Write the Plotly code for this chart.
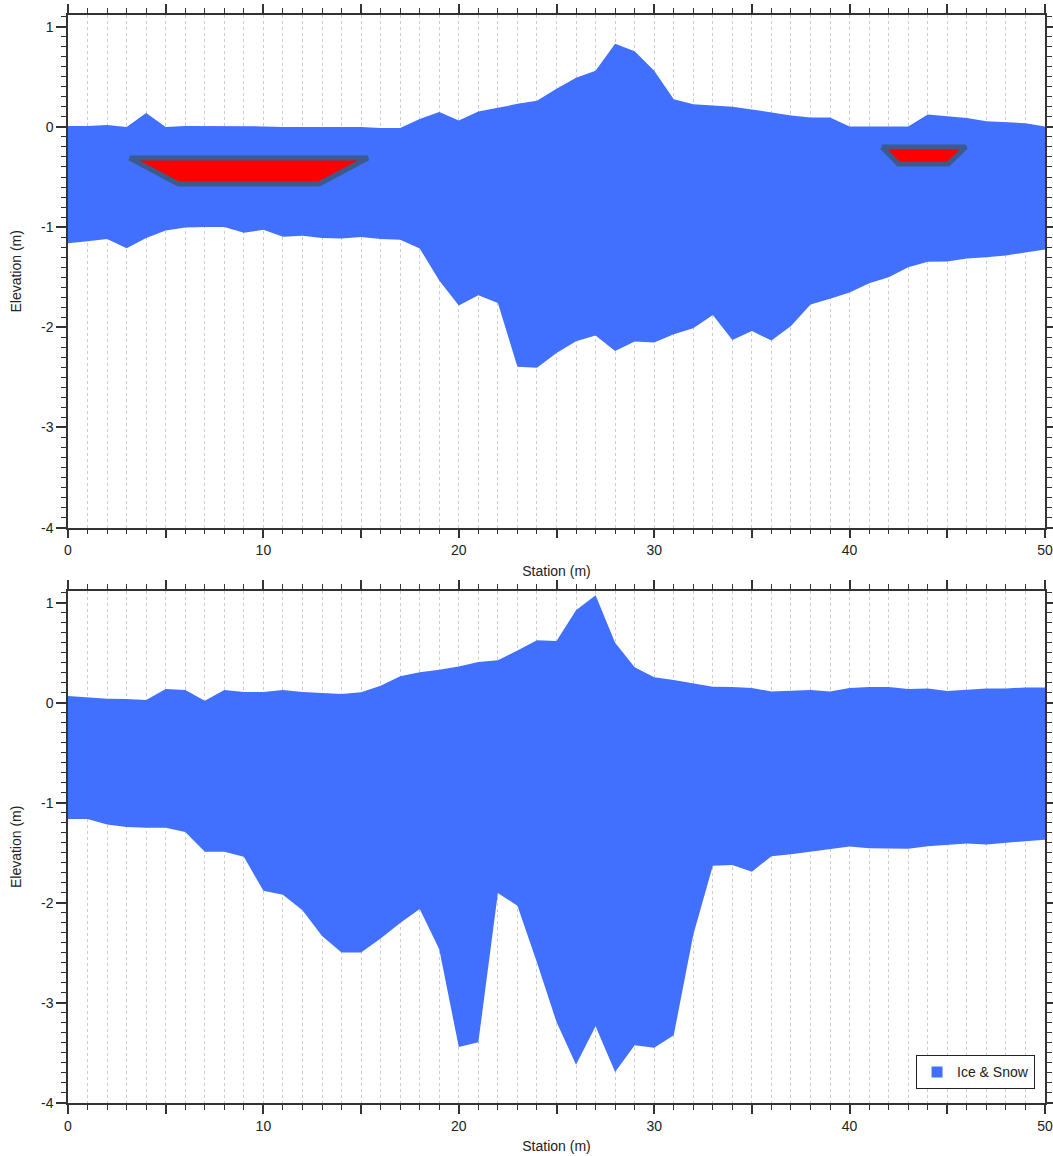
import plotly.graph_objects as go

# Survey stations (m)
stations = list(range(0, 51))

# Profile A: surface and base elevations (m)
a_surface = [0.01, 0.01, 0.02, 0.00, 0.14, 0.00, 0.01, 0.01, 0.01, 0.005,
             0.005, 0.0, 0.0, 0.0, -0.005, 0.0, -0.01, -0.01, 0.08, 0.15,
             0.065, 0.155, 0.19, 0.23, 0.26, 0.38, 0.49, 0.56, 0.83, 0.755,
             0.56, 0.275, 0.225, 0.213, 0.20, 0.175, 0.145, 0.115, 0.095, 0.093,
             0.005, 0.005, 0.005, 0.005, 0.125, 0.105, 0.09, 0.057, 0.047, 0.037,
             0.005]
a_base = [-1.16, -1.14, -1.12, -1.21, -1.11, -1.035, -1.005, -1.0, -1.0, -1.057,
          -1.027, -1.097, -1.087, -1.11, -1.113, -1.10, -1.12, -1.127, -1.213, -1.533,
          -1.783, -1.68, -1.757, -2.393, -2.403, -2.257, -2.14, -2.083, -2.237, -2.143,
          -2.153, -2.07, -2.01, -1.877, -2.126, -2.036, -2.133, -1.986, -1.773, -1.715,
          -1.653, -1.56, -1.50, -1.40, -1.347, -1.343, -1.313, -1.30, -1.283, -1.253,
          -1.223]

# Profile B: surface and base elevations (m)
b_surface = [0.067, 0.05, 0.04, 0.037, 0.027, 0.137, 0.127, 0.02, 0.127, 0.107,
             0.107, 0.127, 0.107, 0.097, 0.087, 0.105, 0.169, 0.265, 0.304, 0.329,
             0.361, 0.407, 0.425, 0.521, 0.625, 0.618, 0.924, 1.074, 0.60, 0.355,
             0.254, 0.226, 0.19, 0.16, 0.157, 0.147, 0.113, 0.117, 0.127, 0.113,
             0.147, 0.157, 0.157, 0.137, 0.143, 0.117, 0.127, 0.143, 0.143, 0.153,
             0.153]
b_base = [-1.163, -1.163, -1.217, -1.243, -1.25, -1.25, -1.293, -1.49, -1.49, -1.54,
          -1.88, -1.92, -2.073, -2.33, -2.495, -2.495, -2.357, -2.20, -2.061, -2.464,
          -3.44, -3.394, -1.901, -2.029, -2.596, -3.19, -3.618, -3.233, -3.689, -3.422,
          -3.447, -3.322, -2.318, -1.63, -1.622, -1.69, -1.533, -1.513, -1.483, -1.463,
          -1.437, -1.453, -1.453, -1.46, -1.433, -1.417, -1.407, -1.417, -1.397, -1.383,
          -1.37]

# Water pockets inside profile A (trapezoid corners, m)
pocket1_x = [3.15, 15.35, 12.85, 5.65]
pocket1_y = [-0.31, -0.31, -0.57, -0.57]
pocket2_x = [41.65, 45.95, 45.05, 42.5]
pocket2_y = [-0.20, -0.20, -0.37, -0.37]

# Axis ticks
x_major = list(range(0, 51, 5))
x_labels = [str(v) if v % 10 == 0 else "" for v in x_major]
y_major = [-4, -3, -2, -1, 0, 1]
y_labels = [str(v) for v in y_major]

ICE = "#4170FF"
POCKET = "#FF0000"
POCKET_EDGE = "#3B5B8C"
AXIS = "#333333"
GRID = "#cdcdcd"
FONT = "Arial, Liberation Sans, sans-serif"


def band(xs, top, bottom):
    """Closed outline of the ice body: surface left->right, base right->left."""
    return xs + xs[::-1], top + bottom[::-1]


fig = go.Figure()

ax, ay = band(stations, a_surface, a_base)
fig.add_trace(go.Scatter(x=ax, y=ay, fill="toself", fillcolor=ICE, mode="lines",
                         line=dict(width=0, color=ICE), hoverinfo="skip",
                         showlegend=False, xaxis="x", yaxis="y"))
for px, py in ((pocket1_x, pocket1_y), (pocket2_x, pocket2_y)):
    fig.add_trace(go.Scatter(x=px + px[:1], y=py + py[:1], fill="toself",
                             fillcolor=POCKET, mode="lines",
                             line=dict(width=5, color=POCKET_EDGE),
                             showlegend=False, xaxis="x", yaxis="y"))

bx, by = band(stations, b_surface, b_base)
fig.add_trace(go.Scatter(x=bx, y=by, fill="toself", fillcolor=ICE, mode="lines",
                         line=dict(width=0, color=ICE), hoverinfo="skip",
                         showlegend=False, xaxis="x2", yaxis="y2"))
# legend key for the ice body
fig.add_trace(go.Scatter(x=[None], y=[None], mode="markers", name="Ice &amp; Snow",
                         marker=dict(symbol="square", size=11, color=ICE),
                         xaxis="x2", yaxis="y2"))


def xaxis_cfg(anchor):
    return dict(
        anchor=anchor, range=[0, 50], automargin=False, tickmode="array",
        tickvals=x_major, ticktext=x_labels, ticks="outside", ticklen=9,
        tickwidth=1.5, tickcolor=AXIS, showline=True, linecolor=AXIS,
        linewidth=1.5, mirror="ticks", showgrid=True, gridcolor=GRID,
        griddash="dot", gridwidth=1, zeroline=False,
        tickfont=dict(size=14, color="#222"),
        minor=dict(tickmode="linear", tick0=0, dtick=1, ticks="outside",
                   ticklen=5, tickwidth=1, tickcolor=AXIS, showgrid=True,
                   gridcolor=GRID, griddash="dot", gridwidth=1),
        title=dict(text="Station (m)", font=dict(size=14, color="#222"),
                   standoff=9),
    )


def yaxis_cfg(anchor, domain, top):
    return dict(
        anchor=anchor, domain=domain, range=[-4, top], automargin=False,
        tickmode="array", tickvals=y_major, ticktext=y_labels,
        ticks="outside", ticklen=10, tickwidth=1.5, tickcolor=AXIS,
        showline=True, linecolor=AXIS, linewidth=1.5, mirror="ticks",
        showgrid=False, zeroline=False, tickfont=dict(size=14, color="#222"),
        minor=dict(tickmode="linear", tick0=0, dtick=0.1, ticks="outside",
                   ticklen=5, tickwidth=1, tickcolor=AXIS, showgrid=False),
        title=dict(text="Elevation (m)", font=dict(size=14, color="#222"),
                   standoff=16),
    )


fig.update_layout(
    width=1053, height=1156,
    margin=dict(l=68, r=8, t=15, b=53),
    paper_bgcolor="white", plot_bgcolor="white",
    font=dict(family=FONT, size=14, color="#222"),
    xaxis=xaxis_cfg("y"),
    yaxis=yaxis_cfg("x", [0.5288, 1.0], 1.117),
    xaxis2=xaxis_cfg("y2"),
    yaxis2=yaxis_cfg("x2", [0.0, 0.4709], 1.12),
    legend=dict(x=0.9898, y=0.0125, xanchor="right", yanchor="bottom",
                bgcolor="white", bordercolor="#222", borderwidth=1,
                font=dict(size=14, color="#222"), itemwidth=30),
    showlegend=True,
)

fig.write_html("out.html")
